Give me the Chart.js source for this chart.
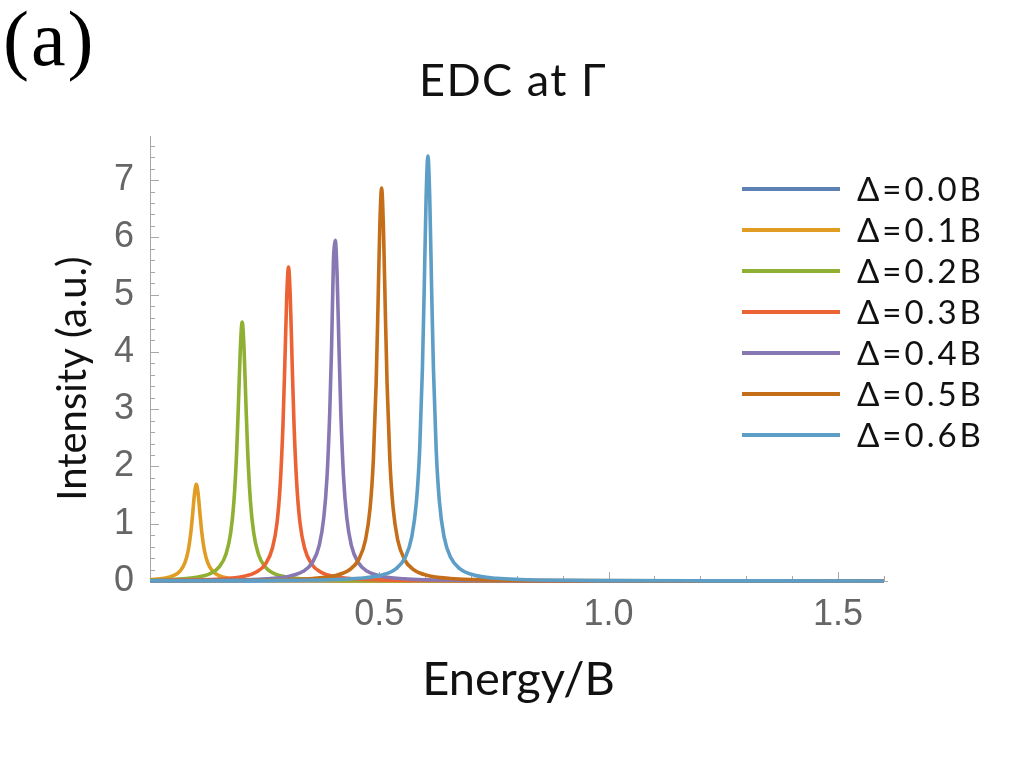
<!DOCTYPE html>
<html>
<head>
<meta charset="utf-8">
<script src="https://cdn.jsdelivr.net/npm/chart.js@4.4.1/dist/chart.umd.min.js"></script>
<style>
  html, body { margin: 0; padding: 0; background: #fff; }
  #wrap { position: relative; width: 1024px; height: 768px; }
  #panel { position: absolute; left: 3px; top: -6px; font-family: "Liberation Serif"; font-size: 78px; letter-spacing: 2px; color: #000; }
  #title { position: absolute; left: 0; top: 57px; width: 1026px; text-align: center; font-family: Lato; font-size: 45px; line-height: 45px; letter-spacing: 1.5px; color: #111; }
</style>
</head>
<body>
<div id="wrap">
  <canvas id="edc" width="1024" height="768"></canvas>
  <div id="panel">(a)</div>
  <div id="title">EDC at Γ</div>
</div>
<script>
//tick labels
const yTickValues = [0, 1, 2, 3, 4, 5, 6, 7];
const xTickValues = [0.5, 1.0, 1.5];
//series labels and colours
const seriesLabels = ["Δ=0.0B", "Δ=0.1B", "Δ=0.2B", "Δ=0.3B", "Δ=0.4B", "Δ=0.5B", "Δ=0.6B"];
const seriesColors = ["#5E81B5", "#E19C24", "#8FB032", "#EB6235", "#8778B3", "#C56E1A", "#5D9EC7"];

//Δ=0.0B stays flat on the axis
const energy00 = [0, 1.6];
const intensity00 = [0, 0];
//Δ=0.1B
const energy01 = [0, 0.031, 0.051, 0.066, 0.076, 0.083, 0.089, 0.093, 0.097, 0.101, 0.105, 0.109, 0.113, 0.119, 0.126, 0.136, 0.151, 0.171, 0.201, 0.251, 0.301, 0.401, 0.701, 1.1, 1.6];
const intensity01 = [0.024, 0.048, 0.092, 0.177, 0.316, 0.52, 0.845, 1.17, 1.52, 1.69, 1.52, 1.17, 0.845, 0.52, 0.316, 0.177, 0.092, 0.048, 0.024, 0.011, 0.006, 0.003, 0.001, 0.0002, 0.0001];
//Δ=0.2B
const energy02 = [0, 0.051, 0.101, 0.131, 0.151, 0.166, 0.176, 0.183, 0.189, 0.193, 0.197, 0.201, 0.205, 0.209, 0.213, 0.219, 0.226, 0.236, 0.251, 0.271, 0.301, 0.351, 0.401, 0.501, 0.601, 0.801, 1.2, 1.6];
const intensity02 = [0.016, 0.029, 0.064, 0.129, 0.246, 0.475, 0.845, 1.39, 2.26, 3.13, 4.07, 4.52, 4.07, 3.13, 2.26, 1.39, 0.845, 0.475, 0.246, 0.129, 0.064, 0.029, 0.016, 0.007, 0.004, 0.002, 0.0006, 0.0003];
//Δ=0.3B
const energy03 = [0, 0.102, 0.152, 0.202, 0.232, 0.252, 0.267, 0.277, 0.284, 0.29, 0.294, 0.298, 0.302, 0.306, 0.31, 0.314, 0.32, 0.327, 0.337, 0.352, 0.372, 0.402, 0.452, 0.502, 0.602, 0.702, 0.902, 1.3, 1.6];
const intensity03 = [0.0088, 0.02, 0.035, 0.078, 0.157, 0.299, 0.575, 1.02, 1.69, 2.74, 3.79, 4.93, 5.48, 4.93, 3.79, 2.74, 1.69, 1.02, 0.575, 0.299, 0.157, 0.078, 0.035, 0.02, 0.0088, 0.0049, 0.002, 0.001, 0.0006];
//Δ=0.4B
const energy04 = [0, 0.104, 0.204, 0.254, 0.304, 0.334, 0.354, 0.369, 0.379, 0.386, 0.392, 0.396, 0.4, 0.402, 0.404, 0.408, 0.412, 0.416, 0.422, 0.429, 0.439, 0.454, 0.474, 0.504, 0.554, 0.604, 0.704, 0.804, 1.004, 1.6];
const intensity04 = [0.0053, 0.0095, 0.021, 0.038, 0.084, 0.169, 0.323, 0.622, 1.11, 1.82, 2.96, 4.1, 5.6, 5.85, 5.95, 5.33, 4.1, 2.96, 1.82, 1.11, 0.622, 0.323, 0.169, 0.084, 0.038, 0.021, 0.0095, 0.0053, 0.0024, 0.0008];
//Δ=0.5B
const energy05 = [0, 0.105, 0.205, 0.305, 0.355, 0.405, 0.435, 0.455, 0.47, 0.48, 0.487, 0.493, 0.497, 0.501, 0.505, 0.509, 0.513, 0.517, 0.523, 0.53, 0.54, 0.555, 0.575, 0.605, 0.655, 0.705, 0.805, 0.905, 1.105, 1.6];
const intensity05 = [0.004, 0.0062, 0.011, 0.025, 0.044, 0.097, 0.196, 0.374, 0.72, 1.28, 2.11, 3.43, 4.75, 6.17, 6.86, 6.17, 4.75, 3.43, 2.11, 1.28, 0.72, 0.374, 0.196, 0.097, 0.044, 0.025, 0.011, 0.0062, 0.0027, 0.001];
//Δ=0.6B
const energy06 = [0, 0.206, 0.306, 0.406, 0.456, 0.506, 0.536, 0.556, 0.571, 0.581, 0.588, 0.594, 0.598, 0.602, 0.606, 0.61, 0.614, 0.618, 0.624, 0.631, 0.641, 0.656, 0.676, 0.706, 0.756, 0.806, 0.906, 1.006, 1.206, 1.6];
const intensity06 = [0.003, 0.0067, 0.012, 0.027, 0.047, 0.105, 0.212, 0.404, 0.78, 1.39, 2.29, 3.71, 5.13, 6.68, 7.42, 6.68, 5.13, 3.71, 2.29, 1.39, 0.78, 0.404, 0.212, 0.105, 0.047, 0.027, 0.012, 0.0067, 0.003, 0.0012];

const energies = [energy00, energy01, energy02, energy03, energy04, energy05, energy06];
const intensities = [intensity00, intensity01, intensity02, intensity03, intensity04, intensity05, intensity06];

const axisGray = "#a8a8a8";
const labelGray = "#666";
const textFont = "Lato";
const tickFont = "Liberation Sans";

//pair x and y arrays into points for each curve
const datasets = seriesLabels.map((label, i) => ({
  label: label,
  data: energies[i].map((e, k) => ({ x: e, y: intensities[i][k] })),
  borderColor: seriesColors[i],
  borderWidth: 3.6,
  pointRadius: 0,
  cubicInterpolationMode: "monotone",
  clip: false,
  //later curves are drawn on top
  order: seriesLabels.length - i,
}));

//inward tick marks like the original plot
const tickPlugin = {
  id: "innerTicks",
  beforeDatasetsDraw(chart) {
    const ctx = chart.ctx;
    const xs = chart.scales.x;
    const ys = chart.scales.y;
    const area = chart.chartArea;
    ctx.save();
    ctx.strokeStyle = axisGray;
    ctx.lineWidth = 1;
    ctx.beginPath();
    for (let k = 1; k <= 38; k++) {
      const py = Math.round(ys.getPixelForValue(k * 0.2)) + 0.5;
      const len = k % 5 === 0 ? 9 : 5;
      ctx.moveTo(area.left, py);
      ctx.lineTo(area.left + len, py);
    }
    for (let k = 1; k <= 16; k++) {
      const px = Math.round(xs.getPixelForValue(k * 0.1)) + 0.5;
      const len = k % 5 === 0 ? 9 : 5;
      ctx.moveTo(px, area.bottom);
      ctx.lineTo(px, area.bottom - len);
    }
    ctx.stroke();
    ctx.restore();
  },
};

//y title, legend inside the plot on the right
const textPlugin = {
  id: "sideText",
  afterDraw(chart) {
    const ctx = chart.ctx;
    const ys = chart.scales.y;
    ctx.save();
    ctx.fillStyle = "#111";
    //y axis title, a bit below the middle like the original
    ctx.save();
    ctx.translate(86, (ys.getPixelForValue(0) + ys.getPixelForValue(7.77)) / 2 + 20);
    ctx.rotate(-Math.PI / 2);
    ctx.font = "40px " + textFont;
    ctx.textAlign = "center";
    ctx.textBaseline = "alphabetic";
    ctx.fillText("Intensity (a.u.)", 0, 0);
    ctx.restore();
    //legend
    ctx.font = "33px " + textFont;
    ctx.letterSpacing = "3px";
    ctx.textBaseline = "middle";
    chart.data.datasets.forEach((ds, i) => {
      const y = 189 + i * 41;
      ctx.strokeStyle = ds.borderColor;
      ctx.lineWidth = 4;
      ctx.beginPath();
      ctx.moveTo(742, y);
      ctx.lineTo(840, y);
      ctx.stroke();
      ctx.fillText(ds.label, 857, y + 1);
    });
    ctx.restore();
  },
};

new Chart(document.getElementById("edc"), {
  type: "line",
  data: { datasets: datasets },
  plugins: [tickPlugin, textPlugin],
  options: {
    responsive: false,
    devicePixelRatio: 1,
    animation: false,
    layout: { padding: { left: 0, right: 137, top: 136, bottom: 0 } },
    plugins: {
      legend: { display: false },
      tooltip: { enabled: false },
    },
    scales: {
      x: {
        type: "linear",
        min: 0,
        max: 1.607,
        afterBuildTicks: (scale) => { scale.ticks = xTickValues.map((v) => ({ value: v })); },
        afterFit: (scale) => { scale.height = 187; },
        grid: { display: false },
        border: { display: true, color: axisGray, width: 1 },
        ticks: {
          color: labelGray,
          font: { family: tickFont, size: 36 },
          padding: 4,
          maxRotation: 0,
          callback: (v) => Number(v).toFixed(1),
        },
        title: {
          display: true,
          text: "Energy/B",
          color: "#111",
          font: { family: textFont, size: 47 },
          padding: { top: 0, bottom: 60 },
        },
      },
      y: {
        type: "linear",
        min: 0,
        max: 7.77,
        afterBuildTicks: (scale) => { scale.ticks = yTickValues.map((v) => ({ value: v })); },
        afterFit: (scale) => { scale.width = 150; },
        grid: { display: false },
        border: { display: true, color: axisGray, width: 1 },
        ticks: {
          color: labelGray,
          font: { family: tickFont, size: 36 },
          padding: 8,
        },
      },
    },
  },
});
</script>
</body>
</html>
